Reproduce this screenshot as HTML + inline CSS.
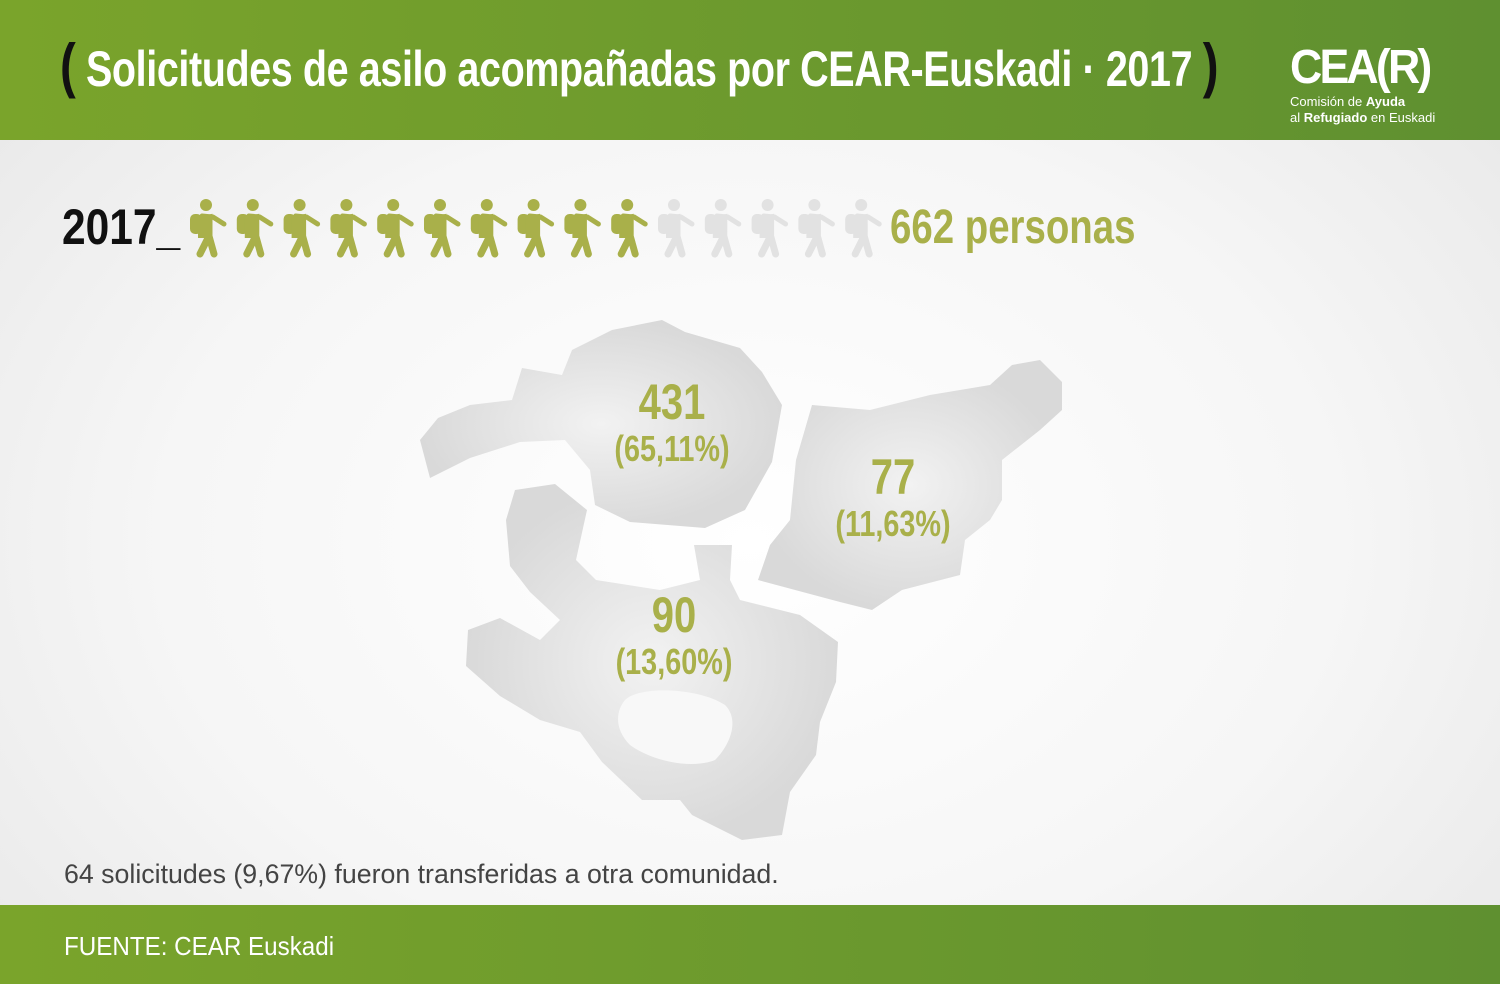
<!DOCTYPE html>
<html><head><meta charset="utf-8"><style>
body{margin:0;width:1500px;height:984px;overflow:hidden;font-family:"Liberation Sans",sans-serif;background:radial-gradient(ellipse at 50% 55%,#ffffff 0%,#f6f6f6 55%,#e6e6e6 100%);position:relative}
.hdr{position:absolute;left:0;top:0;width:1500px;height:140px;background:linear-gradient(90deg,#7aa42b,#5f9030)}
.ftr{position:absolute;left:0;top:905px;width:1500px;height:79px;background:linear-gradient(90deg,#7aa42b,#5f9030)}
.cond{font-family:"Liberation Sans Narrow","Liberation Sans",sans-serif;font-weight:bold}
</style></head><body>
<div class="hdr">
<div class="cond" style="position:absolute;left:60px;top:31px;color:#fff;font-size:50px;letter-spacing:-0.5px;transform:scaleX(0.79);transform-origin:left;white-space:nowrap"><span style="color:#111;font-size:60px">(</span> Solicitudes de asilo acompañadas por CEAR-Euskadi · 2017 <span style="color:#111;font-size:60px">)</span></div>
<div style="position:absolute;left:1290px;top:42px;color:#fff">
<div style="font-size:48px;font-weight:bold;line-height:52px;letter-spacing:-3px;transform:scaleX(0.93);transform-origin:left">CEA(R)</div>
<div style="font-size:13px;line-height:16px">Comisión de <b>Ayuda</b><br>al <b>Refugiado</b> en Euskadi</div>
</div></div>
<div class="cond" style="position:absolute;left:62px;top:198px;font-size:50px;color:#111;transform:scaleX(0.85);transform-origin:left">2017_</div>
<svg id="icons" style="position:absolute;left:0;top:190px" width="900" height="80"></svg>
<div class="cond" style="position:absolute;left:890px;top:200px;font-size:48px;color:#a9b04a;transform:scaleX(0.8);transform-origin:left;white-space:nowrap">662 personas</div>
<svg id="map" style="position:absolute;left:0;top:0" width="1500" height="984">
<defs><radialGradient id="g"><stop offset="0" stop-color="#f2f2f2"/><stop offset="1" stop-color="#d9d9d9"/></radialGradient></defs>
<polygon fill="url(#g)" points="420,440 430,478 470,458 520,442 565,440 590,470 595,505 630,522 705,528 745,510 772,462 782,405 762,372 740,348 685,332 662,320 612,330 572,350 562,375 522,368 512,400 470,405 438,418"/>
<polygon fill="url(#g)" points="812,405 870,410 930,395 990,385 1012,365 1040,360 1062,382 1062,410 1040,430 1002,460 1002,500 990,520 965,540 960,575 902,590 872,610 840,602 758,580 770,545 790,520 796,460"/>
<polygon fill="url(#g)" points="515,490 555,484 587,510 576,560 596,580 660,590 700,580 694,545 732,545 730,580 740,600 800,615 838,642 836,682 820,722 816,755 790,792 782,835 742,840 692,815 680,800 642,800 602,762 580,732 540,720 500,696 466,666 468,630 500,618 540,640 560,620 530,592 510,566 506,520"/>
<path fill="#f8f8f8" d="M625,700 C640,685 700,688 725,705 C740,720 730,745 715,760 C690,770 650,760 630,745 C615,730 615,712 625,700Z"/>
</svg>
<div id="labels"></div>
<div style="position:absolute;left:64px;top:859px;font-size:27px;color:#444;transform:scaleX(0.99);transform-origin:left;white-space:nowrap">64 solicitudes (9,67%) fueron transferidas a otra comunidad.</div>
<div class="ftr"><div style="position:absolute;left:64px;top:26px;color:#fff;font-size:26px;transform:scaleX(0.93);transform-origin:left;white-space:nowrap">FUENTE: CEAR Euskadi</div></div>
<script>
const totalIcons=15, filledIcons=10;
const regions=["Bizkaia","Gipuzkoa","Araba"];
const counts=[431,77,90];
const pcts=["(65,11%)","(11,63%)","(13,60%)"];
const labelCx=[672,893,674], labelTop=[375,450,588];
const svg=document.getElementById('icons');const ns="http://www.w3.org/2000/svg";
for(let i=0;i<totalIcons;i++){
 const g=document.createElementNS(ns,'g');
 
 
 const x=184+i*46.8;
 g.setAttribute('transform','translate('+x+',0)');
 g.setAttribute('fill',i<filledIcons?'#a9b04a':'#e2e2e2');
 g.setAttribute('stroke',i<filledIcons?'#a9b04a':'#e2e2e2');
 g.innerHTML='<circle cx="22" cy="15" r="6" stroke="none"/><rect x="6" y="24" width="12" height="20" rx="5" stroke="none"/><path d="M18,26 L29,27 L40,34" stroke-width="5" fill="none" stroke-linecap="round"/><path d="M15,30 L25,28 L25,46 L16,64 M25,46 L30,64" stroke-width="7" fill="none" stroke-linecap="round"/><rect x="14" y="26" width="12" height="22" stroke="none"/>';
 svg.appendChild(g);
}
const L=document.getElementById('labels');
for(let i=0;i<regions.length;i++){
 const d=document.createElement('div');
 
 
 d.className='cond';
 d.style.cssText='position:absolute;left:'+(labelCx[i]-100)+'px;top:'+labelTop[i]+'px;width:200px;text-align:center;color:#a9b04a;transform:scaleX(0.8)';
 d.innerHTML='<div style="font-size:50px;line-height:54px">'+counts[i]+'</div><div style="font-size:36px;line-height:40px">'+pcts[i]+'</div>';
 L.appendChild(d);
}
</script>
</body></html>
